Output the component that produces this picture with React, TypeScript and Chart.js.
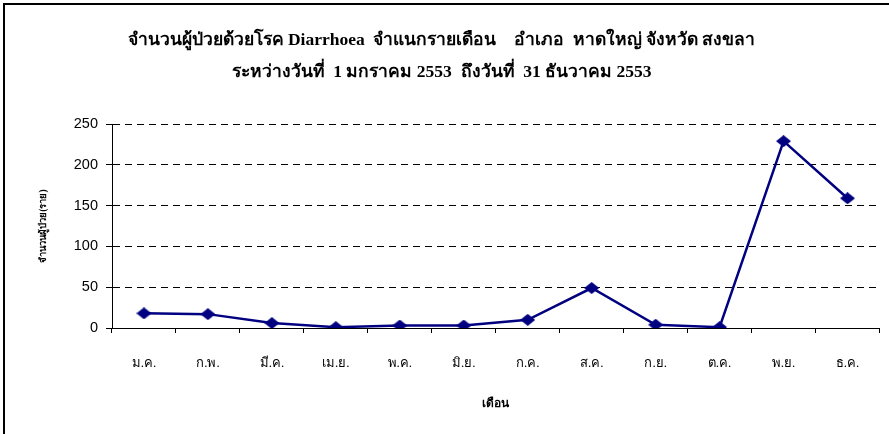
import React, { useEffect, useRef } from "react";
import { Chart, registerables } from "chart.js";

Chart.register(...registerables);

const months = ["ม.ค.", "ก.พ.", "มี.ค.", "เม.ย.", "พ.ค.", "มิ.ย.", "ก.ค.", "ส.ค.", "ก.ย.", "ต.ค.", "พ.ย.", "ธ.ค."];
const patients = [18, 17, 6, 1, 3, 3, 10, 49, 4, 1, 229, 159];
const titleLines = [
  "จำนวนผู้ป่วยด้วยโรค Diarrhoea  จำแนกรายเดือน    อำเภอ  หาดใหญ่ จังหวัด สงขลา",
  "ระหว่างวันที่  1 มกราคม 2553  ถึงวันที่  31 ธันวาคม 2553",
];
const yTitle = "จำนวนผู้ป่วย(ราย)";
const xTitle = "เดือน";
const yMin = 0;
const yMax = 250;
const yStep = 50;

function makeDiamond(): HTMLCanvasElement {
  const c = document.createElement("canvas");
  c.width = 15;
  c.height = 12;
  const g = c.getContext("2d")!;
  g.fillStyle = "#000080";
  g.beginPath();
  g.moveTo(7.5, 0);
  g.lineTo(15, 6);
  g.lineTo(7.5, 12);
  g.lineTo(0, 6);
  g.closePath();
  g.fill();
  return c;
}

export default function App() {
  const ref = useRef<HTMLCanvasElement | null>(null);
  useEffect(() => {
    document.body.style.margin = "0";
    const frame = {
      id: "frame",
      beforeDraw(chart: any) {
        const ctx = chart.ctx;
        ctx.save();
        ctx.fillStyle = "#ffffff";
        ctx.fillRect(0, 0, chart.width, chart.height);
        ctx.strokeStyle = "#000000";
        ctx.lineWidth = 2;
        ctx.beginPath();
        ctx.moveTo(4, chart.height);
        ctx.lineTo(4, 4);
        ctx.lineTo(chart.width, 4);
        ctx.stroke();
        ctx.restore();
      },
    };
    const chart = new Chart(ref.current!, {
      type: "line",
      data: {
        labels: months,
        datasets: [
          {
            data: patients,
            borderColor: "#000080",
            backgroundColor: "#000080",
            borderWidth: 2.5,
            pointStyle: makeDiamond() as any,
            pointRadius: 7,
            tension: 0,
          },
        ],
      },
      options: {
        animation: false,
        responsive: false,
        layout: { padding: { left: 0, right: 6, top: 0, bottom: 0 } },
        plugins: {
          legend: { display: false },
          tooltip: { enabled: false },
          title: {
            display: true,
            text: titleLines,
            color: "#000000",
            font: { family: "'Liberation Serif', serif", size: 17.5, weight: "bold", lineHeight: 1.83 },
            padding: { top: 24, bottom: 36 },
          },
        },
        scales: {
          x: {
            offset: true,
            grid: {
              display: true,
              offset: true,
              drawOnChartArea: false,
              drawTicks: true,
              tickLength: 5,
              tickColor: "#000000",
            },
            border: { display: true, color: "#000000", width: 1 },
            ticks: {
              color: "#000000",
              font: { family: "'Liberation Serif', serif", size: 13 },
              padding: 23,
              maxRotation: 0,
              autoSkip: false,
            },
            title: {
              display: true,
              text: xTitle,
              color: "#000000",
              font: { family: "'Liberation Serif', serif", size: 12, weight: "bold" },
              padding: { top: 0, bottom: 23 },
            },
            afterFit(scale: any) {
              scale.height = 106;
            },
          },
          y: {
            min: yMin,
            max: yMax,
            grid: {
              color: "#000000",
              lineWidth: 1,
              tickLength: 6,
              tickColor: "#000000",
            },
            border: { display: true, color: "#000000", width: 1, dash: [7, 5] },
            ticks: {
              stepSize: yStep,
              color: "#000000",
              font: { family: "'Liberation Sans', Arial, sans-serif", size: 14.5 },
              padding: 8,
            },
            title: {
              display: true,
              text: yTitle,
              color: "#000000",
              font: { family: "'Liberation Serif', serif", size: 9.5, weight: "bold" },
              padding: { top: 38, bottom: 0 },
            },
            afterFit(scale: any) {
              scale.width = 112;
            },
          },
        },
      },
      plugins: [frame],
    });
    return () => chart.destroy();
  }, []);
  return <canvas ref={ref} width={889} height={434} style={{ display: "block" }} />;
}
